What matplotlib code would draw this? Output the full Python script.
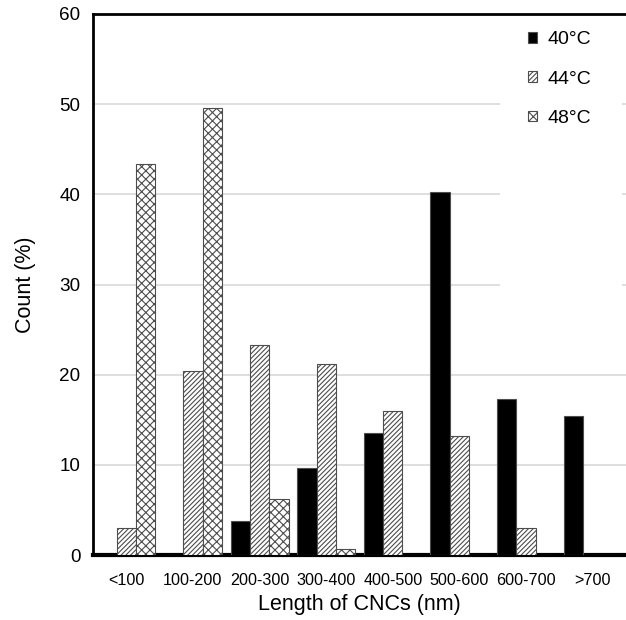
import matplotlib
matplotlib.use("Agg")
import matplotlib.pyplot as plt
from matplotlib.patches import Rectangle
import numpy as np

plt.rcParams['font.family'] = ['Liberation Sans', 'DejaVu Sans']
plt.rcParams['hatch.linewidth'] = 0.8

categories = ["<100", "100-200", "200-300", "300-400", "400-500", "500-600", "600-700", ">700"]
series_names = ["40°C", "44°C", "48°C"]
v40 = [0, 0, 3.8, 9.6, 13.5, 40.3, 17.3, 15.4]
v44 = [3.0, 20.4, 23.3, 21.2, 16.0, 13.2, 3.0, 0]
v48 = [43.4, 49.6, 6.2, 0.7, 0, 0, 0, 0]
yticks = [0, 10, 20, 30, 40, 50, 60]

fig = plt.figure(figsize=(6.26, 6.20), dpi=100)
ax = fig.add_axes([93/626, 65/620, 533/626, 541/620])

x = np.arange(len(categories))
w = 0.29
edge = '#4d4d4d'
ax.bar(x - w, v40, w, color='black', edgecolor=edge, linewidth=0.8, label=series_names[0], zorder=3)
ax.bar(x, v44, w, color='white', edgecolor=edge, hatch='///////', linewidth=0.8, label=series_names[1], zorder=3)
ax.bar(x + w, v48, w, color='white', edgecolor=edge, hatch='xxxx', linewidth=0.8, label=series_names[2], zorder=3)

ax.set_xlim(-0.5, len(categories) - 0.5)
ax.set_ylim(0, 60)
ax.set_yticks(yticks)
ax.set_xticks(x)
ax.set_xticklabels(categories)
ax.tick_params(axis='both', length=0, colors='black')
ax.tick_params(axis='x', pad=13, labelsize=11.6)
ax.tick_params(axis='y', pad=9, labelsize=13.6)
ax.yaxis.grid(True, color='#d9d9d9', linewidth=1.2, zorder=0)
ax.set_axisbelow(True)

for s in ['left', 'top']:
    ax.spines[s].set_linewidth(2)
ax.spines['bottom'].set_linewidth(3)
ax.spines['right'].set_visible(False)

ax.add_patch(Rectangle((0.764, 0.47), 0.228, 0.53, transform=ax.transAxes,
                       facecolor='white', edgecolor='none', zorder=1))

ax.set_xlabel("Length of CNCs (nm)", fontsize=15.5, labelpad=4)
ax.set_ylabel("Count (%)", fontsize=15.5, labelpad=17)

leg = ax.legend(loc='upper left', bbox_to_anchor=(0.816, 0.968), frameon=False,
                fontsize=14, handlelength=0.46, handleheight=0.46, handletextpad=0.57,
                labelspacing=1.15, borderpad=0, borderaxespad=0)

fig.savefig("out.png", dpi=100, facecolor='white')
